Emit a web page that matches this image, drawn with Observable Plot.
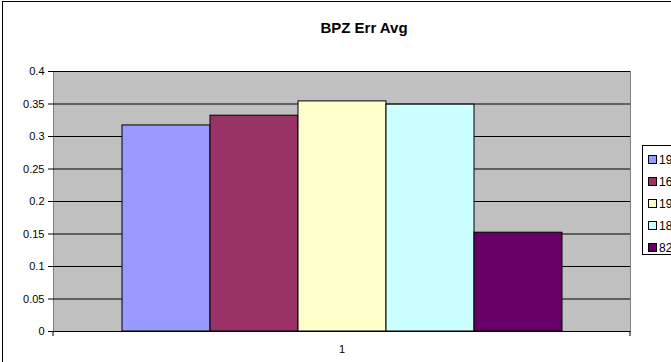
<!DOCTYPE html>
<html>
<head>
<meta charset="utf-8">
<script src="https://cdn.jsdelivr.net/npm/d3@7"></script>
<script src="https://cdn.jsdelivr.net/npm/@observablehq/plot@0.6"></script>
<style>
  html, body { margin: 0; padding: 0; background: #fff; overflow: hidden; }
  #wrap { position: relative; width: 671px; height: 362px; font-family: "Liberation Sans", Arial, sans-serif; }
  #chart { position: absolute; left: 0; top: 0; }
  #border { position: absolute; left: 2px; top: 1px; width: 700px; height: 400px; border-left: 1px solid #000; border-top: 1px solid #000; pointer-events: none; }
  #legend { position: absolute; left: 642px; top: 145px; width: 40px; height: 110px; border: 1px solid #000; background: #fff; box-sizing: border-box; font-size: 12px; }
  .item { position: absolute; left: 5px; height: 14px; line-height: 14px; white-space: nowrap; }
  .sw { display: inline-block; width: 7px; height: 7px; border: 1px solid #000; margin-right: 2px; vertical-align: 0px; }
</style>
</head>
<body>
<div id="wrap"><div id="chart"></div><div id="border"></div><div id="legend"></div></div>
<script>
const title = "BPZ Err Avg";
const categories = ["1"];
const series = ["19a", "16", "19b", "18", "82"];
const seriesLabels = ["19", "16", "19", "18", "82"];
const values = [0.317, 0.332, 0.354, 0.349, 0.152];
const colors = ["#9999FF", "#993366", "#FFFFCC", "#CCFFFF", "#660066"];
const yTicks = [0, 0.05, 0.1, 0.15, 0.2, 0.25, 0.3, 0.35, 0.4];

const data = series.map((s, i) => ({series: s, value: values[i], category: categories[0]}));

const plot = Plot.plot({
  width: 671,
  height: 362,
  marginLeft: 53,
  marginRight: 41,
  marginTop: 71,
  marginBottom: 31,
  style: {fontFamily: "'Liberation Sans', Arial, sans-serif", fontSize: "11px", background: "transparent"},
  x: {domain: series, paddingInner: 0, paddingOuter: 0.75, axis: null},
  y: {domain: [0, 0.4], ticks: yTicks, axis: null},
  color: {domain: series, range: colors},
  marks: [
    Plot.frame({fill: "#C0C0C0", stroke: "#808080"}),
    Plot.gridY(yTicks, {stroke: "#000", strokeOpacity: 1, strokeWidth: 1}),
    Plot.barY(data, {x: "series", y: "value", fill: "series", stroke: "#000", strokeWidth: 1, inset: 0}),
    Plot.ruleX([0], {frameAnchor: "left", stroke: "#000"}),
    Plot.ruleY([0], {stroke: "#000"}),
    Plot.axisY(yTicks, {anchor: "left", label: null, tickSize: 5, tickPadding: 4, fill: "#000", stroke: "#000", fontSize: 11,
      tickFormat: d => String(+d.toFixed(2))}),
    Plot.text(categories, {frameAnchor: "bottom", text: d => d, dy: 21, fontSize: 11, fill: "#000"}),
    Plot.text([title], {frameAnchor: "top", lineAnchor: "top", dx: 22, dy: -49, fontSize: 15, fontWeight: "bold", fill: "#000", text: d => d})
  ]
});
document.getElementById("chart").appendChild(plot);

// category boundary tick marks below the axis
const svg = d3.select(plot);
const yb = 362 - 31;
[53, 630].forEach(px => {
  svg.append("line").attr("x1", px).attr("x2", px).attr("y1", yb).attr("y2", yb + 5).attr("stroke", "#000");
});

const legend = document.getElementById("legend");
seriesLabels.forEach((lab, i) => {
  const div = document.createElement("div");
  div.className = "item";
  div.style.top = (7 + i * 22) + "px";
  div.innerHTML = `<span class="sw" style="background:${colors[i]}"></span>${lab}`;
  legend.appendChild(div);
});
</script>
</body>
</html>
